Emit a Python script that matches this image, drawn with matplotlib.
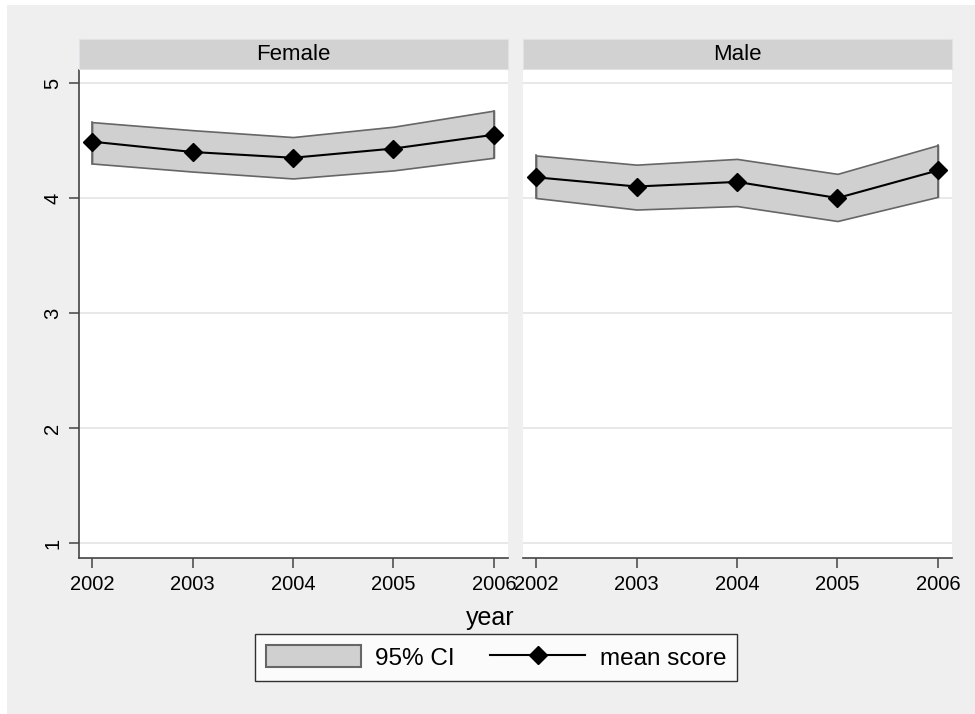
import matplotlib
matplotlib.use("Agg")
import matplotlib.pyplot as plt
from matplotlib.patches import Rectangle, Patch
from matplotlib.lines import Line2D

plt.rcParams['font.family'] = ['Liberation Sans', 'DejaVu Sans']

years = [2002, 2003, 2004, 2005, 2006]
panels = ["Female", "Male"]
mean_score = {
    "Female": [4.49, 4.40, 4.35, 4.43, 4.55],
    "Male":   [4.18, 4.10, 4.14, 4.00, 4.24],
}
ci_upper = {
    "Female": [4.66, 4.59, 4.53, 4.62, 4.76],
    "Male":   [4.37, 4.29, 4.34, 4.21, 4.46],
}
ci_lower = {
    "Female": [4.30, 4.23, 4.17, 4.24, 4.35],
    "Male":   [4.00, 3.90, 3.93, 3.80, 4.01],
}
y_ticks = [1, 2, 3, 4, 5]

W, H = 975, 714
BG = "#EFEFEF"
fig = plt.figure(figsize=(W / 100, H / 100), dpi=100, facecolor=BG)
# thin white margin along the top and left edges
fig.patches.append(Rectangle((0, 0), 7 / W, 1, transform=fig.transFigure,
                             facecolor="white", edgecolor="none", zorder=-10))
fig.patches.append(Rectangle((0, 1 - 5 / H), 1, 5 / H, transform=fig.transFigure,
                             facecolor="white", edgecolor="none", zorder=-10))


def px_axes(x0, y0, x1, y1):
    return fig.add_axes([x0 / W, 1 - y1 / H, (x1 - x0) / W, (y1 - y0) / H])


panel_x = [(79, 508), (523, 952)]
for i, (name, (x0, x1)) in enumerate(zip(panels, panel_x)):
    ax = px_axes(x0, 70, x1, 558)
    ax.set_facecolor("white")
    ax.fill_between(years, ci_lower[name], ci_upper[name], facecolor="#D0D0D0",
                    edgecolor="#666666", linewidth=1.2, zorder=2)
    # close the band at both ends
    for j in (0, -1):
        ax.plot([years[j], years[j]], [ci_lower[name][j], ci_upper[name][j]],
                color="#666666", lw=1.2, zorder=2)
    ax.plot(years, mean_score[name], color="black", lw=1.5, marker="D",
            markersize=9, zorder=3)
    ax.set_xlim(2001.87, 2006.14)
    ax.set_ylim(0.87, 5.113)
    ax.set_yticks(y_ticks)
    ax.set_xticks(years)
    ax.grid(axis="y", color="#E4E4E4", lw=1.2, zorder=0)
    for s in ("top", "right"):
        ax.spines[s].set_visible(False)
    ax.spines["bottom"].set_color("#444444")
    ax.spines["bottom"].set_linewidth(1.2)
    ax.tick_params(axis="both", direction="out", length=7, width=1.1,
                   color="#444444", labelsize=14.5, pad=5)
    if i == 0:
        ax.spines["left"].set_color("#444444")
        ax.spines["left"].set_linewidth(1.2)
        for lbl in ax.get_yticklabels():
            lbl.set_rotation(90)
            lbl.set_va("center")
    else:
        ax.spines["left"].set_visible(False)
        ax.tick_params(axis="y", left=False, labelleft=False)

    strip = px_axes(x0, 39, x1, 69)
    strip.set_facecolor("#D2D2D2")
    strip.set_xticks([])
    strip.set_yticks([])
    for s in strip.spines.values():
        s.set_color("#DDE3E6")
        s.set_linewidth(0.8)
    strip.text(0.5, 0.5, name, ha="center", va="center", fontsize=16,
               transform=strip.transAxes)

fig.text(490 / W, 1 - 618 / H, "year", ha="center", va="center", fontsize=18)

handles = [Patch(facecolor="#D0D0D0", edgecolor="#666666", linewidth=1.5),
           Line2D([0], [0], color="black", lw=1.5, marker="D", markersize=9)]
leg = fig.legend(handles, ["95% CI", "mean score"], loc="center",
                 bbox_to_anchor=(496 / W, 1 - 657.5 / H), ncol=2, fontsize=17.5,
                 frameon=True, fancybox=False, edgecolor="black",
                 handlelength=3.9, handleheight=1.0, columnspacing=1.45,
                 borderpad=0.45, handletextpad=0.6)
leg.get_frame().set_linewidth(1.0)
leg.get_frame().set_facecolor("white")

fig.savefig("out.png", dpi=100, facecolor=fig.get_facecolor())
